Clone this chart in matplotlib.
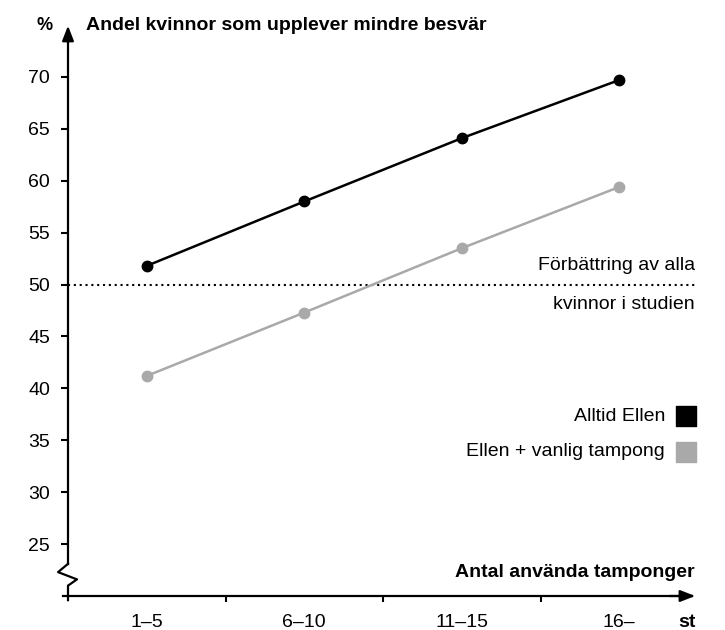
import matplotlib
matplotlib.use("Agg")
import matplotlib.pyplot as plt

plt.rcParams["font.family"] = ["Liberation Sans", "DejaVu Sans"]

categories = ["1–5", "6–10", "11–15", "16–"]
alltid_ellen = [51.8, 58.0, 64.1, 69.7]
ellen_vanlig = [41.2, 47.3, 53.5, 59.4]
y_ticks = [25, 30, 35, 40, 45, 50, 55, 60, 65, 70]
reference_level = 50

BLACK = "#000000"
GRAY = "#a9a9aa"
FS = 14
FS_BOLD = 14


def main():
    fig = plt.figure(figsize=(7.25, 6.3), dpi=100)
    ax = fig.add_axes([68 / 725, 1 - 596 / 630, 630 / 725, (596 - 25) / 630])
    ax.set_xlim(0, 4)
    ax.set_ylim(20, 75)

    x = [i + 0.5 for i in range(len(categories))]
    ax.plot(x, alltid_ellen, color=BLACK, lw=1.8, marker="o", ms=7.5, zorder=3)
    ax.plot(x, ellen_vanlig, color=GRAY, lw=1.8, marker="o", ms=7.5, zorder=3)

    # dotted reference line
    ax.axhline(reference_level, color=BLACK, lw=1.5, ls=(0, (1, 1.8)), xmax=0.995)
    ax.text(3.98, reference_level + 1.0, "Förbättring av alla", ha="right",
            va="bottom", fontsize=FS)
    ax.text(3.98, reference_level - 1.1, "kvinnor i studien", ha="right",
            va="top", fontsize=FS)

    # axes drawn by hand (break on y axis)
    for s in ax.spines.values():
        s.set_visible(False)
    ax.plot([0, 0], [23.1, 74], color=BLACK, lw=1.6, clip_on=False)
    ax.plot([0, -0.063, 0.057, 0, 0], [23.1, 22.3, 21.6, 21.0, 19.6],
            color=BLACK, lw=1.6, clip_on=False)
    ax.plot([-0.03, 3.96], [20, 20], color=BLACK, lw=1.6, clip_on=False)
    ax.annotate("", xy=(0, 75.2), xytext=(0, 73),
                arrowprops=dict(arrowstyle="-|>,head_length=0.9,head_width=0.35",
                                color=BLACK, lw=1.6), annotation_clip=False)
    ax.annotate("", xy=(4.0, 20), xytext=(3.8, 20),
                arrowprops=dict(arrowstyle="-|>,head_length=0.9,head_width=0.35",
                                color=BLACK, lw=1.6), annotation_clip=False)

    ax.set_yticks(y_ticks)
    ax.set_yticklabels([str(v) for v in y_ticks], fontsize=FS)
    ax.set_xticks([1, 2, 3])
    ax.set_xticklabels([])
    ax.tick_params(axis="y", direction="out", length=5, width=1.5, pad=8)
    ax.tick_params(axis="x", direction="out", length=4, width=1.5)

    for xi, lab in zip(x, categories):
        ax.text(xi, 18.3, lab, ha="center", va="top", fontsize=FS)
    ax.text(3.93, 18.3, "st", ha="center", va="top", fontsize=FS_BOLD,
            fontweight="bold")

    ax.text(-0.1, 75, "%", ha="right", va="center", fontsize=FS_BOLD - 1,
            fontweight="bold")
    ax.text(0.115, 75, "Andel kvinnor som upplever mindre besvär", ha="left",
            va="center", fontsize=FS_BOLD, fontweight="bold")
    ax.text(3.98, 21.4, "Antal använda tamponger", ha="right", va="bottom",
            fontsize=FS_BOLD, fontweight="bold")

    # legend
    leg = [("Alltid Ellen", BLACK, 37.3), ("Ellen + vanlig tampong", GRAY, 33.9)]
    for lab, col, yv in leg:
        ax.scatter([3.924], [yv], marker="s", s=200, color=col, clip_on=False)
        ax.text(3.79, yv, lab, ha="right", va="center", fontsize=FS)

    fig.savefig("out.png", dpi=100)


if __name__ == "__main__":
    main()
